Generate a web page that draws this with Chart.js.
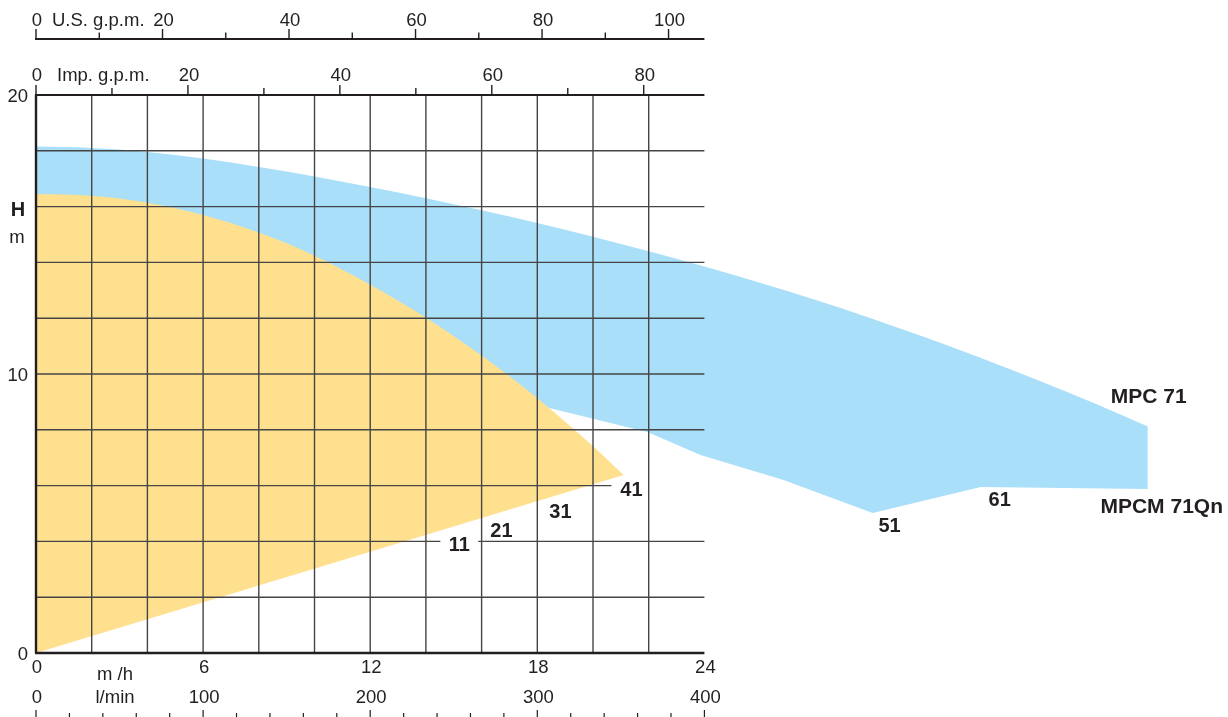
<!DOCTYPE html>
<html>
<head>
<meta charset="utf-8">
<script src="https://cdn.jsdelivr.net/npm/chart.js@4/dist/chart.umd.min.js"></script>
<style>
html,body{margin:0;padding:0;background:#ffffff;}
canvas{display:block;}
</style>
</head>
<body>
<canvas id="c" width="1228" height="717"></canvas>
<script>
// ---------------- DATA ----------------
// MPCM 71Qn family (yellow area): upper performance curve and lower operating-limit line
const flowMPCMTop = [0, 2, 4, 6, 8, 10, 12, 14, 16, 18, 20, 21.1];          // m3/h
const headMPCMTop = [16.45, 16.39, 16.14, 15.7, 15.07, 14.24, 13.2, 12.02, 10.66, 9.13, 7.41, 6.38]; // m
const flowMPCMLow = [0, 21.1];
const headMPCMLow = [0, 6.38];

// MPC 71 family (blue area): upper performance curve and lower operating-limit line
const flowMPCTop = [0, 2, 4, 6, 8, 10, 12, 14, 16, 18, 20, 22, 24, 26, 28, 30, 32, 34, 36, 38, 39.92];
const headMPCTop = [18.15, 18.1, 17.96, 17.72, 17.42, 17.08, 16.7, 16.3, 15.87, 15.41, 14.92, 14.4, 13.85, 13.27, 12.65, 11.99, 11.29, 10.55, 9.77, 8.95, 8.12];
const flowMPCLow = [0, 18.72, 21.95, 23.86, 26.84, 30.04, 33.92, 39.95];
const headMPCLow = [13.26, 8.71, 7.92, 7.10, 6.2, 5.02, 5.95, 5.88];

// tick labels / grid values
const flowTicks = [0, 6, 12, 18, 24];            // m3/h
const lminTicks = [0, 100, 200, 300, 400];       // l/min
const usGpmTicks = [0, 20, 40, 60, 80, 100];     // U.S. g.p.m.
const impGpmTicks = [0, 20, 40, 60, 80];         // Imp. g.p.m.
const headTicks = [0, 10, 20];                   // m
const flowGrid = [2, 4, 6, 8, 10, 12, 14, 16, 18, 20, 22];
const headGrid = [2, 4, 6, 8, 10, 12, 14, 16, 18];

// curve labels (model names)
const curveLabels = ['11', '21', '31', '41', '51', '61'];
const curveLabelFlow = [15.2, 16.71, 18.83, 21.38, 30.65, 34.6];
const curveLabelHead = [3.84, 4.34, 5.02, 5.84, 4.52, 5.45];
const seriesNames = ['MPC 71', 'MPCM 71Qn'];
const seriesNameFlow = [39.95, 40.42];
const seriesNameHead = [9.18, 5.23];

// ---------------- STYLE ----------------
const INK = '#231f20';
const GRID = '#454545';
const YELLOW = '#FEE08F';
const BLUE = '#A9DFF9';
const FONT = '"Liberation Sans", Arial, Helvetica, sans-serif';
const US_GPM = 0.227125;   // m3/h per US gpm
const IMP_GPM = 0.272765;  // m3/h per Imp gpm
const LMIN = 0.06;         // m3/h per l/min
const GRID_MAX = 24;       // gridded part of the flow axis
const X_MAX = 42.8;        // the drawing area continues to the right of the grid

// grid line interruptions (around labels 11 and 41)
const gridBreaks = {4: [[14.52, 15.88]], 6: [[20.66, 24]]};

const zip = (xs, ys) => xs.map((v, i) => ({x: v, y: ys[i]}));

const overlay = {
  id: 'overlay',
  afterDatasetsDraw(chart) {
    const {ctx} = chart;
    const xs = chart.scales.x, ys = chart.scales.y;
    const X = v => xs.getPixelForValue(v);
    const Y = v => ys.getPixelForValue(v);
    ctx.save();

    // grid
    ctx.strokeStyle = GRID;
    ctx.lineWidth = 1.4;
    ctx.beginPath();
    flowGrid.forEach(v => { ctx.moveTo(X(v), Y(20)); ctx.lineTo(X(v), Y(0)); });
    headGrid.forEach(h => {
      let segs = [[0, GRID_MAX]];
      (gridBreaks[h] || []).forEach(([a, b]) => {
        const out = [];
        segs.forEach(([s, e]) => {
          if (b <= s || a >= e) { out.push([s, e]); return; }
          if (a > s) out.push([s, a]);
          if (b < e) out.push([b, e]);
        });
        segs = out;
      });
      segs.forEach(([s, e]) => { ctx.moveTo(X(s), Y(h)); ctx.lineTo(X(e), Y(h)); });
    });
    ctx.stroke();

    // axes
    ctx.strokeStyle = INK;
    ctx.lineWidth = 2.4;
    ctx.beginPath();
    ctx.moveTo(X(0), Y(0)); ctx.lineTo(X(0), Y(20));
    ctx.stroke();
    ctx.lineWidth = 2.6;
    ctx.beginPath();
    ctx.moveTo(X(0) - 1, Y(0)); ctx.lineTo(X(GRID_MAX), Y(0));
    ctx.stroke();
    ctx.lineWidth = 2;
    ctx.beginPath();
    ctx.moveTo(X(0) - 1, Y(20)); ctx.lineTo(X(GRID_MAX), Y(20));
    ctx.stroke();

    // Imp. g.p.m. ticks (on the top border)
    ctx.lineWidth = 1.4;
    ctx.beginPath();
    for (let g = 0; g * IMP_GPM <= GRID_MAX; g += 10) {
      const px = X(g * IMP_GPM);
      const len = (g % 20 === 0) ? 10 : 7;
      ctx.moveTo(px, Y(20)); ctx.lineTo(px, Y(20) - len);
    }
    ctx.stroke();

    // U.S. g.p.m. axis
    const yUS = Y(20) - 56;
    ctx.lineWidth = 2;
    ctx.beginPath();
    ctx.moveTo(X(0) - 1, yUS); ctx.lineTo(X(GRID_MAX), yUS);
    ctx.stroke();
    ctx.lineWidth = 1.4;
    ctx.beginPath();
    for (let g = 0; g * US_GPM <= GRID_MAX; g += 10) {
      const px = X(g * US_GPM);
      const len = (g % 20 === 0) ? 10 : 6.5;
      ctx.moveTo(px, yUS); ctx.lineTo(px, yUS - len);
    }
    ctx.stroke();

    // l/min ticks at the bottom
    ctx.lineWidth = 1.2;
    ctx.beginPath();
    for (let l = 0; l * LMIN <= GRID_MAX + 0.001; l += 20) {
      const px = X(l * LMIN);
      const len = (l % 100 === 0) ? 7 : 4;
      ctx.moveTo(px, chart.height); ctx.lineTo(px, chart.height - len);
    }
    ctx.stroke();

    // texts
    ctx.fillStyle = INK;
    ctx.textBaseline = 'middle';
    ctx.font = '18.5px ' + FONT;
    ctx.textAlign = 'center';
    usGpmTicks.forEach(g => ctx.fillText(String(g), X(g * US_GPM) + 1, yUS - 18));
    impGpmTicks.forEach(g => ctx.fillText(String(g), X(g * IMP_GPM) + 1, Y(20) - 19));
    flowTicks.forEach(f => ctx.fillText(String(f), X(f) + 1, Y(0) + 15));
    lminTicks.forEach(l => ctx.fillText(String(l), X(l * LMIN) + 1, Y(0) + 45));
    ctx.fillText('m /h', X(0) + 79, Y(0) + 22);
    ctx.fillText('l/min', X(0) + 79, Y(0) + 45);
    ctx.textAlign = 'left';
    ctx.fillText('U.S. g.p.m.', X(0) + 16, yUS - 18);
    ctx.fillText('Imp. g.p.m.', X(0) + 21, Y(20) - 19);
    ctx.textAlign = 'right';
    headTicks.forEach(h => ctx.fillText(String(h), X(0) - 8, Y(h) + 2));
    ctx.textAlign = 'center';
    ctx.fillText('m', X(0) - 19, Y(20) + 143);
    ctx.font = '700 20px ' + FONT;
    ctx.fillText('H', X(0) - 18, Y(20) + 115);

    curveLabels.forEach((t, i) => ctx.fillText(t, X(curveLabelFlow[i]), Y(curveLabelHead[i])));
    ctx.font = '700 21px ' + FONT;
    seriesNames.forEach((t, i) => ctx.fillText(t, X(seriesNameFlow[i]), Y(seriesNameHead[i])));
    ctx.restore();
  }
};

new Chart(document.getElementById('c'), {
  type: 'line',
  data: {
    datasets: [
      {label: 'MPCM 71Qn', data: zip(flowMPCMTop, headMPCMTop), fill: 1, backgroundColor: YELLOW,
       borderColor: 'rgba(0,0,0,0)', borderWidth: 0, pointRadius: 0, cubicInterpolationMode: 'monotone'},
      {label: 'MPCM 71Qn limit', data: zip(flowMPCMLow, headMPCMLow), fill: false,
       borderColor: 'rgba(0,0,0,0)', borderWidth: 0, pointRadius: 0, tension: 0},
      {label: 'MPC 71', data: zip(flowMPCTop, headMPCTop), fill: 3, backgroundColor: BLUE,
       borderColor: 'rgba(0,0,0,0)', borderWidth: 0, pointRadius: 0, cubicInterpolationMode: 'monotone'},
      {label: 'MPC 71 limit', data: zip(flowMPCLow, headMPCLow), fill: false,
       borderColor: 'rgba(0,0,0,0)', borderWidth: 0, pointRadius: 0, tension: 0}
    ]
  },
  options: {
    responsive: false,
    devicePixelRatio: 1,
    animation: false,
    layout: {padding: {left: 36, top: 95, right: 0, bottom: 64}},
    plugins: {legend: {display: false}, tooltip: {enabled: false}, filler: {propagate: false}},
    scales: {
      x: {type: 'linear', min: 0, max: X_MAX, display: false},
      y: {type: 'linear', min: 0, max: 20, display: false}
    }
  },
  plugins: [overlay]
});
</script>
</body>
</html>
